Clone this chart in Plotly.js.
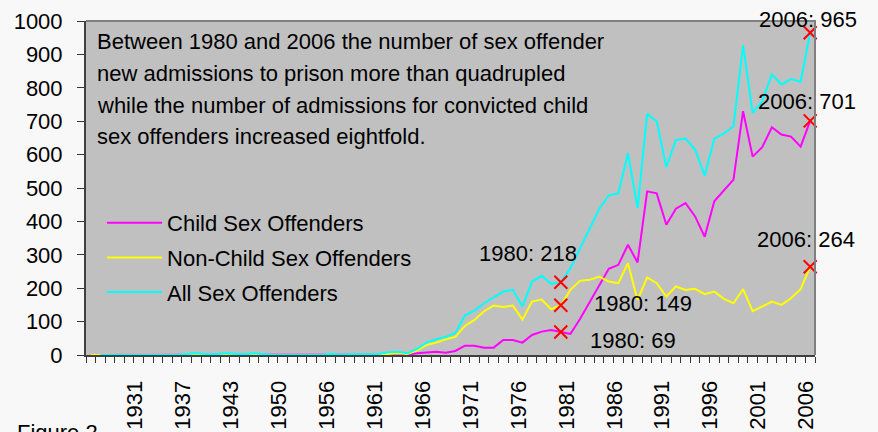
<!DOCTYPE html>
<html>
<head>
<meta charset="utf-8">
<script src="https://cdn.plot.ly/plotly-3.0.1.min.js"></script>
<style>
  html, body { margin: 0; padding: 0; background: #f8f8f8; }
  #chart { width: 878px; height: 432px; }
</style>
</head>
<body>
<div id="chart"></div>
<script>
// ---- data ----
const years = [
  '1926','1927','1928','1929','1930','1931','1932','1933','1934','1935',
  '1937','1938','1939','1940','1941','1943','1944','1945','1946','1947',
  '1950','1951','1952','1953','1954','1956','1957','1958','1959','1960',
  '1961','1962','1963','1964','1965','1966','1967','1968','1969','1970',
  '1971','1972','1973','1974','1975','1976','1977','1978','1979','1980',
  '1981','1982','1983','1984','1985','1986','1987','1988','1989','1990',
  '1991','1992','1993','1994','1995','1996','1997','1998','1999','2000',
  '2001','2002','2003','2004','2005','2006'
];
const labelYears = ['1931','1937','1943','1950','1956','1961','1966','1971',
  '1976','1981','1986','1991','1996','2001','2006'];

const childSex = [
  0,0,0,0,0,0,0,0,0,0,
  0,0,0,0,0,0,0,0,0,0,
  0,0,0,0,0,0,0,0,0,0,
  0,2,2,1,5,7,10,7,12,28,
  28,22,22,45,45,37,60,70,75,69,
  63,108,158,205,258,270,330,277,490,484,
  390,438,455,415,354,460,493,525,730,594,
  622,682,660,654,624,701
];
const nonChildSex = [
  0,0,0,0,0,0,0,0,0,0,
  0,0,0,0,0,0,0,0,0,0,
  0,0,0,0,0,0,0,0,0,0,
  0,3,5,3,13,30,37,47,54,87,
  105,131,148,144,148,106,160,166,137,149,
  195,222,225,235,220,215,275,165,232,215,
  175,205,195,198,182,190,168,155,197,131,
  145,160,150,170,197,264
];
const allSex = [
  null,0,0,0,0,0,0,0,0,0,
  3,5,3,2,5,4,2,5,2,0,
  0,0,0,0,0,4,1,2,3,3,
  3,8,10,5,18,37,47,54,66,118,
  133,155,172,190,195,145,220,237,213,218,
  260,318,380,437,478,484,604,440,722,700,
  563,644,648,615,537,648,663,685,927,725,
  760,840,810,826,818,965
];
const seriesNames = ['Child Sex Offenders', 'Non-Child Sex Offenders', 'All Sex Offenders'];
const noteLines = [
  'Between 1980 and 2006 the number of sex offender',
  'new admissions to prison more than quadrupled',
  'while the number of admissions for convicted child',
  'sex offenders increased eightfold.'
];
const markYears = ['1980', '2006'];
const figureCaption = 'Figure 2';

// ---- styles ----
const FONT = 'Liberation Sans, Arial, sans-serif';
const FS = 22;
const colors = ['#ff00ff', '#ffff00', '#00ffff'];
const seriesList = [childSex, nonChildSex, allSex];

const traces = seriesList.map((vals, i) => ({
  type: 'scatter',
  mode: 'lines',
  x: years,
  y: vals,
  name: seriesNames[i],
  legendgroup: 'g' + i,
  line: { color: colors[i], width: 2 },
  connectgaps: false,
  hoverinfo: 'skip'
}));

// red cross markers at 1980 and 2006 for each series
const mx = [], my = [];
seriesList.forEach(vals => {
  markYears.forEach(yr => {
    mx.push(yr);
    my.push(vals[years.indexOf(yr)]);
  });
});
traces.push({
  type: 'scatter',
  mode: 'markers',
  x: mx, y: my,
  showlegend: false,
  cliponaxis: false,
  hoverinfo: 'skip',
  marker: { symbol: 'x-thin', size: 13, color: '#ff0000', line: { color: '#ff0000', width: 2 } }
});

// label offsets (px) per series and mark year: [xshift, yshift]
const labelShift = [
  { '1980': [72, -9],  '2006': [-3, 19] },   // child
  { '1980': [82, 2],   '2006': [-4, 27] },   // non-child
  { '1980': [-33, 29], '2006': [-2, 13] }    // all
];

const annotations = [];
seriesList.forEach((vals, i) => {
  markYears.forEach(yr => {
    const idx = years.indexOf(yr);
    const v = vals[idx];
    annotations.push({
      xref: 'x', yref: 'y', x: idx, y: v,
      text: yr + ': ' + v,
      showarrow: false,
      xanchor: 'center', yanchor: 'middle',
      xshift: labelShift[i][yr][0], yshift: labelShift[i][yr][1],
      font: { family: FONT, size: FS, color: '#000' }
    });
  });
});

const noteY = [0.9386, 0.8428, 0.7485, 0.6542];
noteLines.forEach((t, i) => {
  annotations.push({
    xref: 'paper', yref: 'paper', x: 0.013, y: noteY[i],
    xanchor: 'left', yanchor: 'middle',
    text: t, showarrow: false,
    font: { family: FONT, size: FS, color: '#000' }
  });
});

annotations.push({
  xref: 'paper', yref: 'paper', x: -0.098, y: -0.19,
  xanchor: 'left', yanchor: 'top',
  text: figureCaption, showarrow: false,
  font: { family: FONT, size: FS, color: '#000' }
});

const tickText = years.map(y => labelYears.includes(y) ? y : '');

const layout = {
  width: 878, height: 432,
  margin: { l: 86, r: 63, t: 21, b: 77, pad: 0 },
  paper_bgcolor: '#f8f8f8',
  plot_bgcolor: '#c0c0c0',
  font: { family: FONT, size: FS, color: '#000' },
  showlegend: true,
  legend: {
    x: 0.022, y: 0.458, xanchor: 'left', yanchor: 'top',
    bgcolor: 'rgba(0,0,0,0)',
    font: { family: FONT, size: FS, color: '#000' },
    itemwidth: 55,
    tracegroupgap: 3,
    traceorder: 'grouped'
  },
  xaxis: {
    type: 'category',
    range: [-0.5, years.length - 0.5],
    tickmode: 'array',
    tickvals: years,
    ticktext: tickText,
    tickson: 'boundaries',
    tickangle: -90,
    ticks: 'outside', ticklen: 6, tickwidth: 1, tickcolor: '#333',
    ticklabelstandoff: 15,
    ticklabelshift: -4,
    showline: true, linecolor: '#404040', linewidth: 2,
    showgrid: false, zeroline: false,
    tickfont: { family: FONT, size: FS, color: '#000' }
  },
  yaxis: {
    range: [0, 1000],
    tickmode: 'linear', tick0: 0, dtick: 100,
    ticks: 'outside', ticklen: 7, tickwidth: 1, tickcolor: '#333',
    ticklabelstandoff: 10,
    showline: true, linecolor: '#404040', linewidth: 2,
    showgrid: false, zeroline: false,
    tickfont: { family: FONT, size: FS, color: '#000' }
  },
  shapes: [{
    type: 'path', xref: 'paper', yref: 'paper',
    path: 'M0,1 L1,1 L1,0',
    line: { color: '#808080', width: 2 }
  }],
  annotations: annotations
};

Plotly.newPlot('chart', traces, layout, { staticPlot: true, displayModeBar: false });
</script>
</body>
</html>
